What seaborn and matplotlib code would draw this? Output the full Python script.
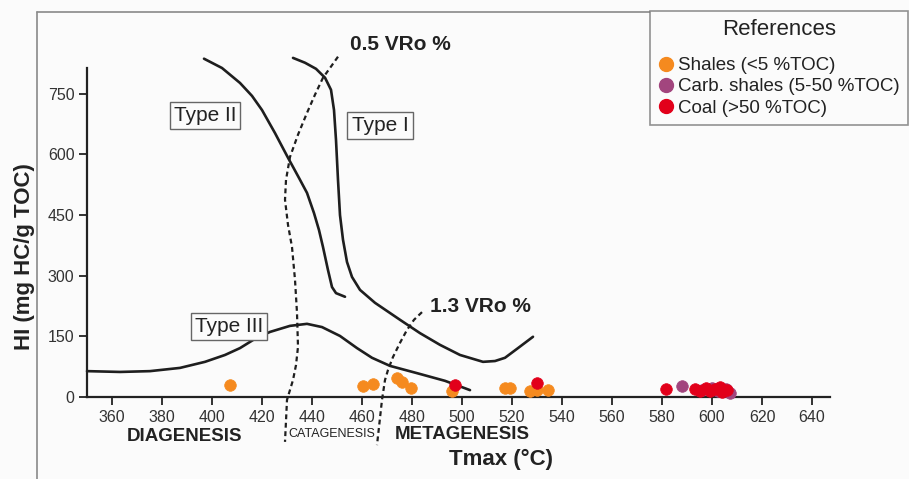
import numpy as np
import pandas as pd
import matplotlib
matplotlib.use("Agg")
import matplotlib.pyplot as plt
from matplotlib.lines import Line2D
import seaborn as sns

# ---------------- data ----------------
type2_T = [396.8, 404.0, 411.2, 416.0, 420.0, 425.2, 430.4, 434.8, 438.0, 440.8, 442.8,
           444.4, 446.4, 448.0, 449.6, 453.2]
type2_HI = [837, 814, 777, 745, 710, 653, 592, 542, 505, 455, 413, 371, 314, 272, 257, 248]

type1_T = [432.4, 437.2, 441.6, 445.2, 447.6, 448.8, 449.6, 450.4, 451.2, 452.4, 454.0,
           456.0, 459.2, 465.2, 475.2, 483.2, 491.2, 499.2, 508.4, 513.2, 517.2, 522.4, 528.4]
type1_HI = [839, 827, 812, 790, 760, 710, 636, 537, 450, 389, 334, 297, 265, 233, 191,
            158, 129, 104, 87, 89, 97, 121, 149]

type3_T = [350.0, 363.2, 375.2, 387.2, 397.2, 405.2, 411.2, 417.2, 423.2, 431.2, 438.0,
           444.0, 451.2, 458.0, 464.0, 471.2, 482.0, 493.2, 503.2]
type3_HI = [64, 62, 64, 72, 87, 104, 121, 144, 161, 176, 181, 173, 151, 121, 97, 77, 59, 40, 17]

vro05_T = [450.4, 447.2, 444.4, 441.2, 438.0, 434.4, 431.2, 429.6, 429.2, 430.4, 432.0,
           433.2, 434.0, 434.4, 433.6, 432.4, 430.0, 429.2]
vro05_HI = [842, 814, 790, 748, 703, 649, 594, 537, 488, 426, 371, 290, 208, 124, 79, 42, -7, -111]

vro13_T = [484.0, 480.8, 478.0, 475.2, 472.4, 470.4, 469.2, 468.0, 466.0]
vro13_HI = [210, 191, 166, 134, 99, 67, 42, -7, -119]

shale_T = [407.2, 460.4, 464.4, 474.0, 476.0, 479.6, 496.0, 517.2, 519.2, 527.2, 530.0, 534.4]
shale_HI = [30, 27, 32, 47, 37, 22, 15, 22, 22, 15, 17, 17]

carb_T = [588.0, 596.0, 600.0, 602.5, 605.5, 607.0]
carb_HI = [26, 18, 22, 14, 20, 10]

coal_T = [497.2, 530.0, 581.6, 593.0, 595.0, 597.5, 599.0, 601.0, 603.0, 604.0, 606.0]
coal_HI = [30, 35, 20, 20, 15, 22, 14, 19, 25, 12, 18]

x_ticks = [360, 380, 400, 420, 440, 460, 480, 500, 520, 540, 560, 580, 600, 620, 640]
y_ticks = [0, 150, 300, 450, 600, 750]
legend_labels = ["Shales (<5 %TOC)", "Carb. shales (5-50 %TOC)", "Coal (>50 %TOC)"]
colors = ["#F58A1F", "#A2457E", "#E2001A"]

# ---------------- figure ----------------
sns.set_theme(style="ticks")
plt.rcParams["font.family"] = ["Liberation Sans", "DejaVu Sans"]

W, H = 909, 479
fig = plt.figure(figsize=(W / 100, H / 100), dpi=100)
fig.patch.set_facecolor("#fbfbfb")

ax = fig.add_axes([87 / W, (H - 397) / H, 742.5 / W, (397 - 68) / H])
ax.set_facecolor("none")

for T, HI in [(type2_T, type2_HI), (type1_T, type1_HI), (type3_T, type3_HI)]:
    sns.lineplot(x=T, y=HI, color="#1e1e1e", lw=1.9, sort=False, estimator=None,
                 ax=ax, legend=False, clip_on=False)

for T, HI in [(vro05_T, vro05_HI), (vro13_T, vro13_HI)]:
    sns.lineplot(x=T, y=HI, color="#1e1e1e", lw=1.6, sort=False, estimator=None,
                 ax=ax, legend=False, linestyle=(0, (2.2, 1.6)), clip_on=False)

handles = []
for T, HI, c, lab in [(shale_T, shale_HI, colors[0], legend_labels[0]),
                      (carb_T, carb_HI, colors[1], legend_labels[1]),
                      (coal_T, coal_HI, colors[2], legend_labels[2])]:
    sns.scatterplot(x=T, y=HI, color=c, s=70, edgecolor=c, linewidth=0.5,
                    ax=ax, zorder=5, clip_on=False, legend=False)
    handles.append(Line2D([], [], marker="o", linestyle="none", markersize=10,
                          markerfacecolor=c, markeredgecolor=c, label=lab))

ax.set_xlim(350, 647)
ax.set_ylim(0, 814)
ax.set_xticks(x_ticks)
ax.set_yticks(y_ticks)
ax.tick_params(axis="both", direction="out", length=6, width=1.3, color="#222",
               labelsize=11.5, labelcolor="#333", pad=3)
for side in ["top", "right"]:
    ax.spines[side].set_visible(False)
for side in ["left", "bottom"]:
    ax.spines[side].set_color("#222")
    ax.spines[side].set_linewidth(1.6)

ax.set_xlabel("")
ax.set_ylabel("")
fig.text(501 / W, 1 - 459 / H, "Tmax (°C)", fontsize=16, fontweight="bold",
         color="#222", ha="center", va="center")
fig.text(25 / W, 1 - 257 / H, "HI (mg HC/g TOC)", fontsize=16, fontweight="bold",
         color="#222", ha="center", va="center", rotation=90)

# zone labels
ax.text(388.8, -97, "DIAGENESIS", fontsize=13.5, fontweight="bold", color="#222",
        ha="center", va="center", clip_on=False)
ax.text(448.0, -92, "CATAGENESIS", fontsize=9, color="#222",
        ha="center", va="center", clip_on=False)
ax.text(500.0, -92, "METAGENESIS", fontsize=13.5, fontweight="bold", color="#222",
        ha="center", va="center", clip_on=False)

# curve labels
ax.text(455.2, 872, "0.5 VRo %", fontsize=15, fontweight="bold", color="#222",
        ha="left", va="center", clip_on=False)
ax.text(487.2, 225, "1.3 VRo %", fontsize=15, fontweight="bold", color="#222",
        ha="left", va="center", clip_on=False)
box = dict(boxstyle="square,pad=0.2", facecolor="#fbfbfb", edgecolor="#666", linewidth=1)
ax.text(397.2, 697, "Type II", fontsize=15, color="#222", ha="center", va="center", bbox=box)
ax.text(467.2, 672, "Type I", fontsize=15, color="#222", ha="center", va="center", bbox=box)
ax.text(406.8, 175, "Type III", fontsize=15, color="#222", ha="center", va="center", bbox=box)

# outer frame lines
fig.add_artist(Line2D([37 / W, 37 / W], [0, 1 - 12 / H], transform=fig.transFigure,
                      color="#8a8a8a", lw=1.2))
fig.add_artist(Line2D([37 / W, 650 / W], [1 - 12 / H, 1 - 12 / H], transform=fig.transFigure,
                      color="#8a8a8a", lw=1.2))

leg = fig.legend(handles=handles, loc="upper left", bbox_to_anchor=(650 / W, 1 - 11 / H),
                 title="References", title_fontsize=16, fontsize=13.5, frameon=True,
                 fancybox=False, edgecolor="#777", facecolor="#fbfbfb",
                 handletextpad=0.25, handlelength=0.8, borderpad=0.45, labelspacing=0.22,
                 borderaxespad=0)
leg._legend_box.sep = 12
leg.get_frame().set_linewidth(1.2)
for t in leg.get_texts():
    t.set_color("#222")
leg.get_title().set_color("#222")

fig.savefig("out.png", dpi=100, facecolor=fig.get_facecolor())
